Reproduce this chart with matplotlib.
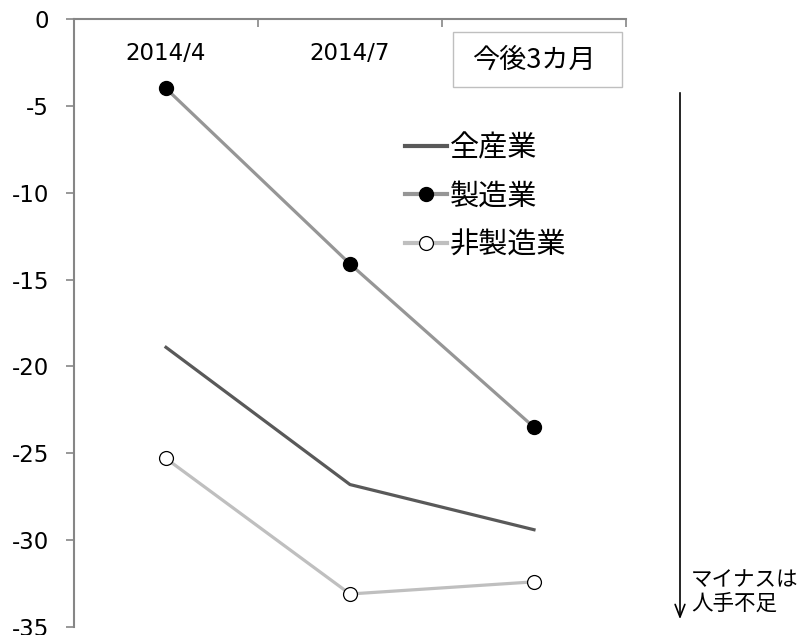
import matplotlib
matplotlib.use('Agg')
import matplotlib.pyplot as plt
from matplotlib.patches import Rectangle
import numpy as np

plt.rcParams['font.family'] = ['Noto Sans CJK JP', 'DejaVu Sans']

# data
periods = ['2014/4', '2014/7', '今後3カ月']
all_industries = [-18.9, -26.8, -29.4]
manufacturing = [-4.0, -14.1, -23.5]
non_manufacturing = [-25.3, -33.1, -32.4]
y_ticks = [0, -5, -10, -15, -20, -25, -30, -35]

fig = plt.figure(figsize=(8.01, 6.35), dpi=100)
ax = fig.add_axes([74 / 801, 1 - 627 / 635, (626 - 74) / 801, (627 - 19) / 635])

x = np.arange(len(periods)) + 0.5

ax.plot(x, all_industries, color='#595959', lw=2.3, label='全産業', zorder=3)
ax.plot(x, manufacturing, color='#969696', lw=2.3, marker='o', ms=10,
        mfc='black', mec='black', label='製造業', zorder=3)
ax.plot(x, non_manufacturing, color='#bfbfbf', lw=2.3, marker='o', ms=10,
        mfc='white', mec='black', mew=0.9, label='非製造業', zorder=3)

ax.set_xlim(0, 3)
ax.set_ylim(-35, 0)
ax.set_yticks(y_ticks)
ax.set_yticklabels([str(v) for v in y_ticks], fontsize=16.5, family='DejaVu Sans')
ax.tick_params(axis='y', direction='out', length=6, width=1.2, color='#868686', pad=12)

ax.xaxis.tick_top()
ax.set_xticks([0, 1, 2, 3])
ax.set_xticklabels([])
ax.tick_params(axis='x', direction='in', length=6, width=1.2, color='#868686')

for s in ['right', 'bottom']:
    ax.spines[s].set_visible(False)
for s in ['left', 'top']:
    ax.spines[s].set_color('#868686')
    ax.spines[s].set_linewidth(1.5)

# category labels under the top axis
for i, lab in enumerate(periods):
    if i == len(periods) - 1:
        ax.text(x[i], -2.35, lab, ha='center', va='center', fontsize=19.5)
    else:
        ax.text(x[i], -2.0, lab, ha='center', va='center', fontsize=16.5,
                family='DejaVu Sans')

# box around the forecast label
ax.add_patch(Rectangle(((453 - 74) / 552, 1 - (87 - 19) / 608), 169 / 552, 55 / 608,
                       transform=ax.transAxes, fill=False, ec='#bfbfbf', lw=1,
                       clip_on=False))

leg = ax.legend(loc='upper left', bbox_to_anchor=((405 - 74) / 552, 1 - (133 - 19) / 608),
                frameon=False, fontsize=21, handlelength=1.45, handletextpad=0.1,
                labelspacing=0.64, borderaxespad=0, borderpad=0)
for h in leg.legend_handles:
    h.set_linewidth(3)

# arrow and note on the right
ax.annotate('', xy=(680 / 801, 1 - 622 / 635), xytext=(680 / 801, 1 - 90 / 635),
            xycoords='figure fraction', textcoords='figure fraction',
            arrowprops=dict(arrowstyle='->,head_length=0.9,head_width=0.35', color='black', lw=1.2))
fig.text(691 / 801, 1 - 592 / 635, 'マイナスは\n人手不足', ha='left', va='center',
         fontsize=15.5, linespacing=1.05)

fig.savefig('out.png', dpi=100)
